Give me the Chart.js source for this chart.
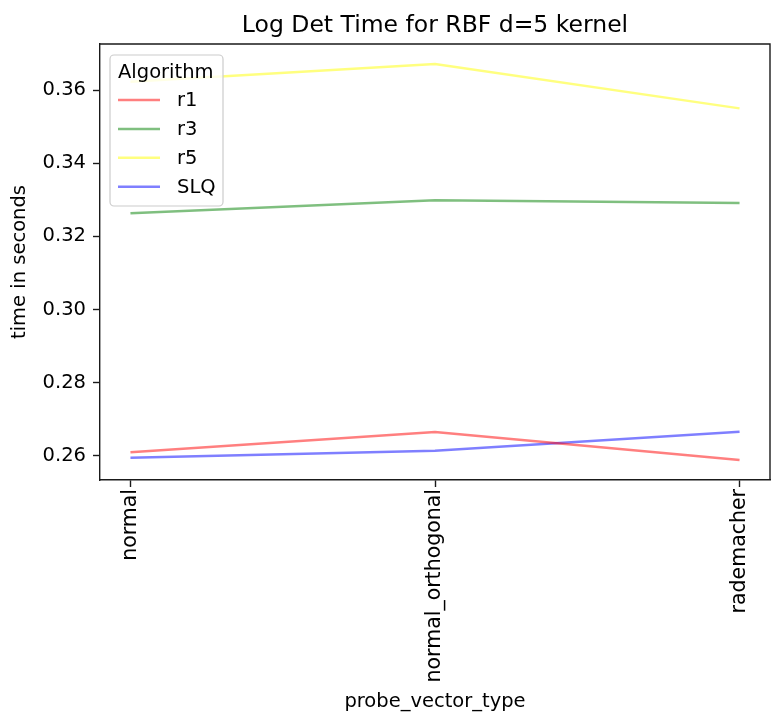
<!DOCTYPE html>
<html>
<head>
<meta charset="utf-8">
<script src="https://cdn.jsdelivr.net/npm/chart.js@4/dist/chart.umd.min.js"></script>
<style>
  body { margin: 0; background: #fff; }
  #wrap { width: 783px; height: 726px; }
</style>
</head>
<body>
<div id="wrap"><canvas id="chart"></canvas></div>
<script>
const probeTypes = ["normal", "normal_orthogonal", "rademacher"];
const yTicks = [0.26, 0.28, 0.30, 0.32, 0.34, 0.36];
const algorithms = ["r1", "r3", "r5", "SLQ"];
const r1 = [0.2610, 0.2665, 0.2589];
const r3 = [0.3263, 0.3299, 0.3291];
const r5 = [0.3623, 0.3671, 0.3550];
const slq = [0.2595, 0.2614, 0.2666];

const FONT = "DejaVu Sans";
const INK = "#1a1a1a";

const colors = ["rgba(255,0,0,0.5)", "rgba(0,128,0,0.5)", "rgba(255,255,0,0.5)", "rgba(0,0,255,0.5)"];
const seriesList = [r1, r3, r5, slq];

const toPoints = (vals) => vals.map((v, i) => ({ x: i, y: v }));

// title, top/right spines and the boxed legend
const extras = {
  id: "extras",
  afterDatasetsDraw(chart) {
    const { ctx, chartArea: ca } = chart;
    ctx.save();
    // spines
    ctx.strokeStyle = INK;
    ctx.lineWidth = 1.4;
    ctx.beginPath();
    ctx.moveTo(ca.left, ca.top);
    ctx.lineTo(ca.right, ca.top);
    ctx.lineTo(ca.right, ca.bottom);
    ctx.stroke();

    // title
    ctx.fillStyle = "#000";
    ctx.font = `23.5px "${FONT}"`;
    ctx.textAlign = "center";
    ctx.textBaseline = "alphabetic";
    ctx.fillText("Log Det Time for RBF d=5 kernel", (ca.left + ca.right) / 2, ca.top - 12);

    // legend
    const bx = ca.left + 10, by = ca.top + 11, bw = 113, bh = 151, r = 4;
    ctx.beginPath();
    ctx.moveTo(bx + r, by);
    ctx.arcTo(bx + bw, by, bx + bw, by + bh, r);
    ctx.arcTo(bx + bw, by + bh, bx, by + bh, r);
    ctx.arcTo(bx, by + bh, bx, by, r);
    ctx.arcTo(bx, by, bx + bw, by, r);
    ctx.closePath();
    ctx.fillStyle = "rgba(255,255,255,0.8)";
    ctx.fill();
    ctx.strokeStyle = "#cccccc";
    ctx.lineWidth = 1.2;
    ctx.stroke();

    ctx.font = `19.5px "${FONT}"`;
    ctx.textAlign = "left";
    ctx.textBaseline = "middle";
    ctx.fillStyle = "#000";
    ctx.fillText("Algorithm", bx + 8, by + 18);
    chart.data.datasets.forEach((ds, i) => {
      const yy = by + 45 + i * 28.9;
      ctx.strokeStyle = ds.borderColor;
      ctx.lineWidth = 2.5;
      ctx.beginPath();
      ctx.moveTo(bx + 8, yy);
      ctx.lineTo(bx + 50, yy);
      ctx.stroke();
      ctx.fillStyle = "#000";
      ctx.fillText(ds.label, bx + 67, yy + 1);
    });
    ctx.restore();
  }
};

new Chart(document.getElementById("chart"), {
  type: "line",
  data: {
    datasets: algorithms.map((name, i) => ({
      label: name,
      data: toPoints(seriesList[i]),
      borderColor: colors[i],
      backgroundColor: colors[i],
      borderWidth: 2.5,
      pointRadius: 0,
      tension: 0,
      fill: false
    }))
  },
  options: {
    responsive: true,
    maintainAspectRatio: false,
    devicePixelRatio: 1,
    animation: false,
    layout: { padding: { left: 0, right: 13, top: 44, bottom: 0 } },
    plugins: { legend: { display: false }, title: { display: false }, tooltip: { enabled: false } },
    scales: {
      x: {
        type: "linear",
        min: -0.1,
        max: 2.1,
        afterBuildTicks: (scale) => { scale.ticks = probeTypes.map((_, i) => ({ value: i })); },
        afterFit: (scale) => { scale.height = 246; },
        ticks: {
          callback: (v) => probeTypes[v],
          minRotation: 90,
          maxRotation: 90,
          autoSkip: false,
          color: "#000",
          padding: 2,
          font: { family: FONT, size: 20.5 }
        },
        grid: { drawOnChartArea: false, drawTicks: true, tickLength: 7, tickColor: INK, tickWidth: 1.4 },
        border: { color: INK, width: 1.4 },
        title: {
          display: true,
          text: "probe_vector_type",
          color: "#000",
          font: { family: FONT, size: 19.5 },
          padding: { top: 0, bottom: 12 }
        }
      },
      y: {
        type: "linear",
        min: 0.2534,
        max: 0.3726,
        afterBuildTicks: (scale) => { scale.ticks = yTicks.map((v) => ({ value: v })); },
        afterFit: (scale) => { scale.width = 100; },
        ticks: {
          callback: (v) => v.toFixed(2),
          color: "#000",
          padding: 7,
          font: { family: FONT, size: 19.5 }
        },
        grid: { drawOnChartArea: false, drawTicks: true, tickLength: 7, tickColor: INK, tickWidth: 1.4 },
        border: { color: INK, width: 1.4 },
        title: {
          display: true,
          text: "time in seconds",
          color: "#000",
          font: { family: FONT, size: 19.5 },
          padding: { top: 8, bottom: 0 }
        }
      }
    }
  },
  plugins: [extras]
});
</script>
</body>
</html>
